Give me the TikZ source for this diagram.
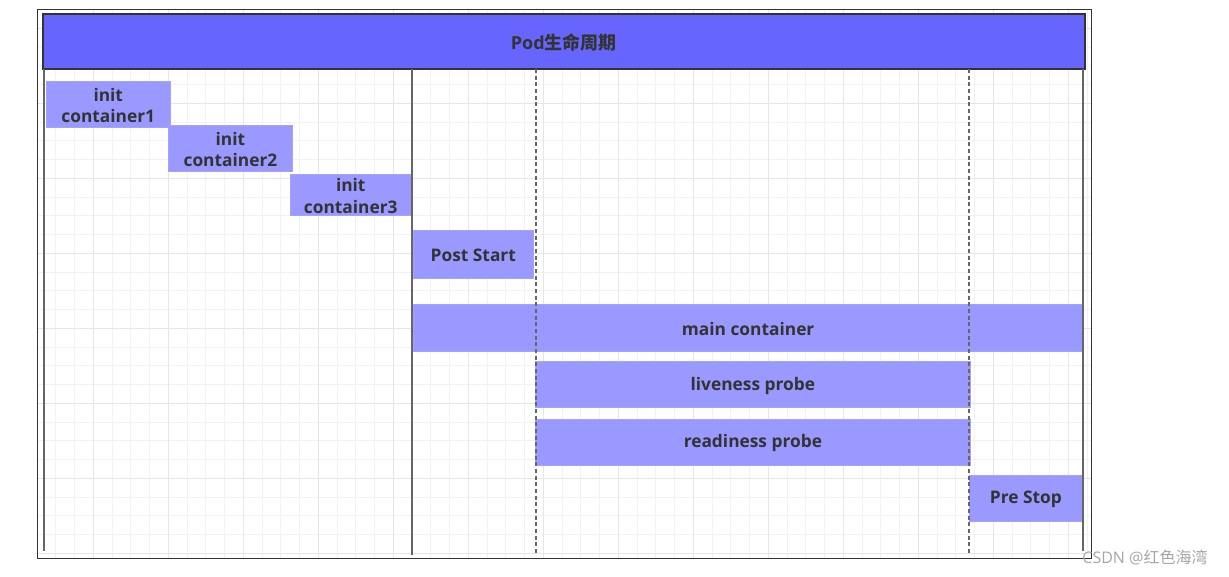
\documentclass[tikz,border=0pt]{standalone}
\usepackage{fontspec}
\setmainfont{Open Sans}
\newfontfamily\cjk{Noto Sans CJK SC}
\usetikzlibrary{fit}
\definecolor{titlefill}{HTML}{6666FF}
\definecolor{boxfill}{HTML}{9999FF}
\definecolor{boxline}{HTML}{A3A3FF}
\definecolor{txt}{HTML}{333333}
\definecolor{gridminor}{HTML}{F2F2F2}
\definecolor{gridmajor}{HTML}{E6E6E6}
\definecolor{vline}{HTML}{666666}
\tikzset{
  stagebox/.style={fill=boxfill, draw=boxline, line width=0.5pt, inner sep=0pt},
  stagelabel/.style={inner sep=0pt, font=\bfseries\fontsize{13}{16.3}\selectfont, text=txt, align=center},
  titlebar/.style={fill=titlefill, draw=txt, line width=1.5pt, inner sep=0pt},
  titlelabel/.style={inner sep=0pt, font=\bfseries\fontsize{13.5}{16}\selectfont, text=txt},
  phase/.style={draw=vline, line width=1pt},
  phasedash/.style={draw=vline, line width=1pt, dash pattern=on 3pt off 2pt},
}
\begin{document}
\begin{tikzpicture}[x=0.75pt,y=-0.75pt]
\useasboundingbox (0,0) rectangle (1229,577);
% grid
\begin{scope}
\clip (37.5,10) rectangle (1091,558);
\foreach \k in {1,...,57}{
  \draw[gridminor, line width=0.75pt] ({18.3+18.75*\k},10) -- ({18.3+18.75*\k},558);
}
\foreach \k in {0,...,28}{
  \draw[gridminor, line width=0.75pt] (37.5,{28.3+18.75*\k}) -- (1091,{28.3+18.75*\k});
}
\foreach \k in {1,...,14}{
  \draw[gridmajor, line width=0.75pt] ({18.3+75*\k},10) -- ({18.3+75*\k},558);
}
\foreach \k in {0,...,7}{
  \draw[gridmajor, line width=0.75pt] (37.5,{28.3+75*\k}) -- (1091,{28.3+75*\k});
}
\end{scope}
% frame
\node[draw=txt, line width=0.75pt, inner sep=0pt, fit={(37.5,10) (1091,558)}] (frame) {};
% title bar
\node[titlebar, fit={(43,14) (1084.5,69)}] (title) {};
\node[titlelabel] (titletext) at ([yshift=-0.75pt]title.center) {Pod{\cjk\bfseries 生命周期}};
% boxes
\node[stagebox, fit={(46,81) (170.5,127.3)}] (init1) {};
\node[stagelabel] at ([yshift=-1pt]init1.center) (init1t) {init\\container1};
\node[stagebox, fit={(168.3,125.3) (292.6,171.3)}] (init2) {};
\node[stagelabel] at ([yshift=-1pt]init2.center) (init2t) {init\\container2};
\node[stagebox, fit={(290,174) (411.5,215.7)}] (init3) {};
\node[stagelabel] at ([yshift=-1pt]init3.center) (init3t) {init\\container3};
\node[stagebox, fit={(413.3,230) (533.3,278.3)}] (post) {};
\node[stagelabel] at ([yshift=-1pt]post.center) (postt) {Post Start};
\node[stagebox, fit={(413.3,304) (1083,351)}] (main) {};
\node[stagelabel] at ([yshift=-1pt]main.center) (maint) {main container};
\node[stagebox, fit={(535.3,361.3) (970.5,407.5)}] (live) {};
\node[stagelabel] at ([yshift=-1pt]live.center) (livet) {liveness probe};
\node[stagebox, fit={(535.3,419) (970.5,465)}] (ready) {};
\node[stagelabel] at ([yshift=-1pt]ready.center) (readyt) {readiness probe};
\node[stagebox, fit={(969,475.3) (1082.7,521.3)}] (prestop) {};
\node[stagelabel] at ([yshift=-1pt]prestop.center) (prestopt) {Pre Stop};
% phase lines
\coordinate (l1t) at (44,69);  \coordinate (l1b) at (44,551);
\coordinate (l2t) at (412,69); \coordinate (l2b) at (412,555);
\coordinate (l3t) at (536,69); \coordinate (l3b) at (536,555);
\coordinate (l4t) at (969,69); \coordinate (l4b) at (969,555);
\coordinate (l5t) at (1083,69); \coordinate (l5b) at (1083,551);
\draw[phase] (l1t) -- (l1b);
\draw[phase] (l2t) -- (l2b);
\draw[phasedash] (l3t) -- (l3b);
\draw[phasedash] (l4t) -- (l4b);
\draw[phase] (l5t) -- (l5b);
% watermark
\node[text=black!35, font=\fontsize{12}{14}\selectfont, inner sep=0pt] (wm) at (1145,557) {CSDN @{\cjk 红色海湾}};
\end{tikzpicture}
\end{document}
